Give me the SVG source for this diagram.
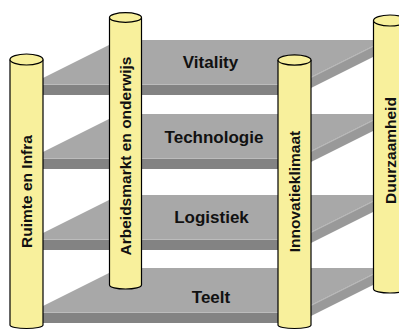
<svg xmlns="http://www.w3.org/2000/svg" xmlns:xlink="http://www.w3.org/1999/xlink" width="399" height="330" viewBox="0 0 399 330">
<style>
.top{fill:#a8a8a8}
.front{fill:#838383}
.side{fill:#999999}
.hl{fill:none;stroke:#bcbcbc;stroke-width:1}
.pil{fill:#f8f09c;stroke:#000;stroke-width:1.2}
.lbl{font-family:"Liberation Sans",Arial,sans-serif;font-weight:bold;font-size:17px;fill:#111;text-anchor:middle}
.plbl{font-family:"Liberation Sans",Arial,sans-serif;font-weight:bold;font-size:15.5px;fill:#111;text-anchor:middle}
</style>
<defs>
<g id="shelfShape">
<polygon class="top" points="31,0 297,0 385,-44 119,-44"/>
<rect class="front" x="31" y="0" width="266" height="11"/>
<polygon class="side" points="297,0 385,-44 385,-33 297,11"/>
<polyline class="hl" points="31,0.5 297,0.5 385,-43.5"/>
</g>
</defs>
<rect width="399" height="330" fill="#fff"/>
<g id="shelf-vitality" transform="translate(0,84)"><use href="#shelfShape"/></g>
<g id="shelf-technologie" transform="translate(0,158)"><use href="#shelfShape"/></g>
<g id="shelf-logistiek" transform="translate(0,239)"><use href="#shelfShape"/></g>
<g id="shelf-teelt" transform="translate(0,312)"><use href="#shelfShape"/></g>
<g id="labels">
<text class="lbl" x="210.5" y="68">Vitality</text>
<text class="lbl" x="214" y="143">Technologie</text>
<text class="lbl" x="211.5" y="223">Logistiek</text>
<text class="lbl" x="211" y="303">Teelt</text>
</g>
<g id="pillar-ruimte">
<path class="pil" d="M10,59.5 L10,325 A16.5,3.5 0 0 0 43,325 L43,59.5"/>
<ellipse class="pil" cx="26.5" cy="59.5" rx="16.5" ry="5.5"/>
<text class="plbl" transform="translate(32,191.5) rotate(-90)">Ruimte en Infra</text>
</g>
<g id="pillar-arbeidsmarkt">
<path class="pil" d="M109.5,17.5 L109.5,285 A16,4 0 0 0 141.5,285 L141.5,17.5"/>
<ellipse class="pil" cx="125.5" cy="17.5" rx="16" ry="4.8"/>
<text class="plbl" transform="translate(131,156) rotate(-90)">Arbeidsmarkt en onderwijs</text>
</g>
<g id="pillar-innovatie">
<path class="pil" d="M278,60 L278,325 A16.5,3.5 0 0 0 311,325 L311,60"/>
<ellipse class="pil" cx="294.5" cy="60" rx="16.5" ry="5.2"/>
<text class="plbl" transform="translate(300,191.5) rotate(-90)">Innovatieklimaat</text>
</g>
<g id="pillar-duurzaamheid">
<path class="pil" d="M373.5,20.5 L373.5,289 A16.5,4 0 0 0 406.5,289 L406.5,20.5"/>
<ellipse class="pil" cx="390" cy="20.5" rx="16.5" ry="5.5"/>
<text class="plbl" transform="translate(396,150.5) rotate(-90)">Duurzaamheid</text>
</g>
<g id="connectors"/>
</svg>
